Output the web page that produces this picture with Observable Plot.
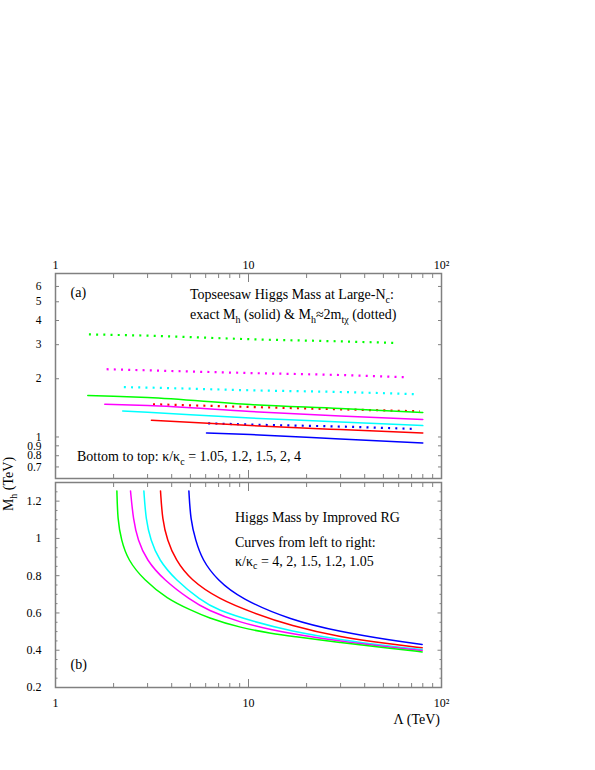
<!DOCTYPE html>
<html><head><meta charset="utf-8">
<script src="https://cdn.jsdelivr.net/npm/d3@7"></script>
<script src="https://cdn.jsdelivr.net/npm/@observablehq/plot@0.6"></script>
<style>
body{margin:0;background:#fff;}
#wrap{position:relative;width:595px;height:770px;font-family:"Liberation Serif","Times New Roman",serif;}
#wrap svg{position:absolute;left:0;}
</style></head><body><div id="wrap"></div>
<script>
// ---------- data ----------
const kappas = ["1.05", "1.2", "1.5", "2", "4"];
const colors = ["#0000ff", "#ff0000", "#00ffff", "#ff00ff", "#00ff00"];

// x ticks (Lambda, TeV)
const xMajor = [1, 10, 100];
const xMinor = [2, 3, 4, 5, 6, 7, 8, 9, 20, 30, 40, 50, 60, 70, 80, 90];
// panel (a) y ticks
const yTicksA = [0.7, 0.8, 0.9, 1, 2, 3, 4, 5, 6];
// panel (b) y ticks
const yMajorB = [0.2, 0.4, 0.6, 0.8, 1, 1.2];
const yMinorB = [0.25, 0.3, 0.35, 0.45, 0.5, 0.55, 0.65, 0.7, 0.75, 0.85, 0.9, 0.95, 1.05, 1.1, 1.15, 1.25];

// panel (a): exact M_h (solid)
const exactL_105 = [6.06, 10.24, 29.9, 80];
const exactM_105 = [1.049, 1.029, 0.977, 0.931];
const exactL_12 = [3.14, 10.24, 29.9, 80];
const exactM_12 = [1.22, 1.145, 1.092, 1.049];
const exactL_15 = [2.23, 3.0, 10.24, 29.9, 80];
const exactM_15 = [1.362, 1.341, 1.253, 1.195, 1.145];
const exactL_2 = [1.80, 3.0, 10.24, 29.9, 80];
const exactM_2 = [1.476, 1.453, 1.355, 1.284, 1.23];
const exactL_4 = [1.47, 2.0, 3.0, 10.24, 29.9, 80];
const exactM_4 = [1.637, 1.623, 1.598, 1.47, 1.402, 1.337];

// panel (a): M_h ~ 2 m_tchi (dotted)
const approxL_105 = [6.18, 10.24, 29.9, 73.9];
const approxM_105 = [1.177, 1.159, 1.132, 1.10];
const approxL_12 = [3.2, 10.24, 29.9, 77.3];
const approxM_12 = [1.476, 1.429, 1.39, 1.357];
const approxL_15 = [2.26, 3.0, 10.24, 29.9, 75.3];
const approxM_15 = [1.81, 1.80, 1.743, 1.708, 1.663];
const approxL_2 = [1.84, 3.0, 10.24, 29.9, 66.6];
const approxM_2 = [2.24, 2.21, 2.14, 2.09, 2.035];
const approxL_4 = [1.49, 3.0, 10.24, 29.9, 59];
const approxM_4 = [3.39, 3.34, 3.20, 3.12, 3.06];

// panel (b): improved RG
const rgL_4 = [2.08, 2.10, 2.19, 2.37, 2.87, 3.79, 5.01, 6.11, 9.09, 13.5, 16.5, 30.0, 54.4, 79.4];
const rgM_4 = [1.255, 1.10, 0.992, 0.884, 0.777, 0.676, 0.616, 0.576, 0.520, 0.488, 0.476, 0.440, 0.410, 0.391];
const rgL_2 = [2.447, 2.53, 2.67, 2.96, 3.64, 5.01, 6.11, 9.09, 13.5, 16.5, 30.0, 54.4, 79.4];
const rgM_2 = [1.255, 1.10, 0.992, 0.884, 0.777, 0.669, 0.616, 0.547, 0.508, 0.490, 0.447, 0.416, 0.399];
const rgL_15 = [2.87, 2.94, 3.11, 3.43, 4.19, 5.64, 6.88, 10.65, 16.5, 30.0, 54.4, 79.4];
const rgM_15 = [1.255, 1.10, 0.992, 0.884, 0.777, 0.669, 0.616, 0.553, 0.503, 0.456, 0.422, 0.404];
const rgL_12 = [3.50, 3.58, 3.79, 4.19, 5.01, 6.99, 10.65, 16.5, 30.0, 54.4, 79.4];
const rgM_12 = [1.255, 1.10, 0.992, 0.884, 0.777, 0.675, 0.599, 0.532, 0.469, 0.433, 0.413];
const rgL_105 = [4.91, 5.01, 5.31, 5.76, 6.88, 9.09, 16.5, 30.0, 54.4, 79.4];
const rgM_105 = [1.255, 1.10, 0.992, 0.884, 0.777, 0.677, 0.562, 0.499, 0.454, 0.431];

// ---------- build tables ----------
const zip = (L, M, k) => L.map((l, i) => ({L: l, M: M[i], k}));
const exact = [
  zip(exactL_105, exactM_105, "1.05"), zip(exactL_12, exactM_12, "1.2"),
  zip(exactL_15, exactM_15, "1.5"), zip(exactL_2, exactM_2, "2"), zip(exactL_4, exactM_4, "4")
].flat();
const approx = [
  zip(approxL_105, approxM_105, "1.05"), zip(approxL_12, approxM_12, "1.2"),
  zip(approxL_15, approxM_15, "1.5"), zip(approxL_2, approxM_2, "2"), zip(approxL_4, approxM_4, "4")
].flat();
const rg = [
  zip(rgL_105, rgM_105, "1.05"), zip(rgL_12, rgM_12, "1.2"),
  zip(rgL_15, rgM_15, "1.5"), zip(rgL_2, rgM_2, "2"), zip(rgL_4, rgM_4, "4")
].flat();

const FONT = '"Liberation Serif","Times New Roman",serif';
const GRAY = "#808080";
const xFmt = d => d === 100 ? "10²" : String(d);
const yFmt = d => String(d);

function xAxes(withTop, withBottom) {
  const m = [];
  for (const anchor of ["top", "bottom"]) {
    m.push(Plot.axisX({anchor, ticks: xMajor, tickSize: -8, fill: "none", stroke: GRAY, label: null}));
    m.push(Plot.axisX({anchor, ticks: xMinor, tickSize: -4, fill: "none", stroke: GRAY, label: null}));
  }
  if (withTop) m.push(Plot.axisX({anchor: "top", ticks: xMajor, tickSize: 0, tickPadding: 5, tickFormat: xFmt, fontSize: 12, label: null}));
  if (withBottom) m.push(Plot.axisX({anchor: "bottom", ticks: xMajor, tickSize: 0, tickPadding: 11, tickFormat: xFmt, fontSize: 12, label: null}));
  return m;
}

const plotA = Plot.plot({
  width: 595, height: 480,
  marginLeft: 55, marginRight: 154, marginTop: 273, marginBottom: 2,
  style: {fontFamily: FONT, fontSize: "12px", background: "transparent", color: "black"},
  x: {type: "log", domain: [1, 100]},
  y: {type: "log", domain: [0.61, 7]},
  color: {domain: kappas, range: colors},
  marks: [
    Plot.line(approx, {x: "L", y: "M", z: "k", stroke: "k", strokeWidth: 2.2, strokeDasharray: "2,5.2", strokeLinecap: "butt", curve: "monotone-x"}),
    Plot.line(exact, {x: "L", y: "M", z: "k", stroke: "k", strokeWidth: 1.5, curve: "monotone-x"}),
    ...xAxes(true, false),
    Plot.axisY({anchor: "left", ticks: yTicksA, tickSize: -4, fill: "none", stroke: GRAY, label: null}),
    Plot.axisY({anchor: "right", ticks: yTicksA, tickSize: -4, fill: "none", stroke: GRAY, label: null}),
    Plot.axisY({anchor: "left", ticks: yTicksA, tickSize: 0, tickPadding: 14, tickFormat: yFmt, fontSize: 11.5, label: null}),
    Plot.frame({stroke: GRAY, strokeWidth: 1.5})
  ]
});
plotA.style.top = "0px";

const plotB = Plot.plot({
  width: 595, height: 290,
  marginLeft: 55, marginRight: 154, marginTop: 2, marginBottom: 83,
  style: {fontFamily: FONT, fontSize: "12px", background: "transparent", color: "black"},
  x: {type: "log", domain: [1, 100]},
  y: {domain: [0.2, 1.3]},
  color: {domain: kappas, range: colors},
  marks: [
    Plot.line(rg, {x: "L", y: "M", z: "k", stroke: "k", strokeWidth: 1.5, curve: "basis"}),
    ...xAxes(false, true),
    Plot.axisY({anchor: "left", ticks: yMajorB, tickSize: -4.5, fill: "none", stroke: GRAY, label: null}),
    Plot.axisY({anchor: "right", ticks: yMajorB, tickSize: -4.5, fill: "none", stroke: GRAY, label: null}),
    Plot.axisY({anchor: "left", ticks: yMinorB, tickSize: -2.5, fill: "none", stroke: GRAY, label: null}),
    Plot.axisY({anchor: "right", ticks: yMinorB, tickSize: -2.5, fill: "none", stroke: GRAY, label: null}),
    Plot.axisY({anchor: "left", ticks: yMajorB, tickSize: 0, tickPadding: 14, tickFormat: yFmt, fontSize: 12, label: null}),
    Plot.frame({stroke: GRAY, strokeWidth: 1.5})
  ]
});
plotB.style.top = "480px";

const wrap = document.getElementById("wrap");
wrap.appendChild(plotA);
wrap.appendChild(plotB);

// ---------- text annotations ----------
const ns = "http://www.w3.org/2000/svg";
const ov = document.createElementNS(ns, "svg");
ov.setAttribute("width", 595); ov.setAttribute("height", 770);
ov.style.top = "0px";
ov.setAttribute("font-family", FONT);
ov.setAttribute("font-size", "14");
ov.innerHTML = `
<text x="70.5" y="297">(a)</text>
<text x="190" y="299">Topseesaw Higgs Mass at Large-N<tspan dy="3.5" font-size="10">c</tspan><tspan dy="-3.5">:</tspan></text>
<text x="190" y="319">exact M<tspan dy="3.5" font-size="10">h</tspan><tspan dy="-3.5"> (solid) &amp; M</tspan><tspan dy="3.5" font-size="10">h</tspan><tspan dy="-3.5">≈2m</tspan><tspan dy="3.5" font-size="10">tχ</tspan><tspan dy="-3.5"> (dotted)</tspan></text>
<text x="77" y="461">Bottom to top: κ/κ<tspan dy="3.5" font-size="10">c</tspan><tspan dy="-3.5"> = 1.05, 1.2, 1.5, 2, 4</tspan></text>
<text x="235" y="521.5">Higgs Mass by Improved RG</text>
<text x="235" y="547">Curves from left to right:</text>
<text x="235" y="565.5">κ/κ<tspan dy="3.5" font-size="10">c</tspan><tspan dy="-3.5"> = 4, 2, 1.5, 1.2, 1.05</tspan></text>
<text x="70.5" y="669">(b)</text>
<text x="440" y="724" text-anchor="end">Λ (TeV)</text>
<text transform="translate(13,484) rotate(-90)" text-anchor="middle">M<tspan dy="3.5" font-size="10">h</tspan><tspan dy="-3.5"> (TeV)</tspan></text>
`;
wrap.appendChild(ov);
</script></body></html>
